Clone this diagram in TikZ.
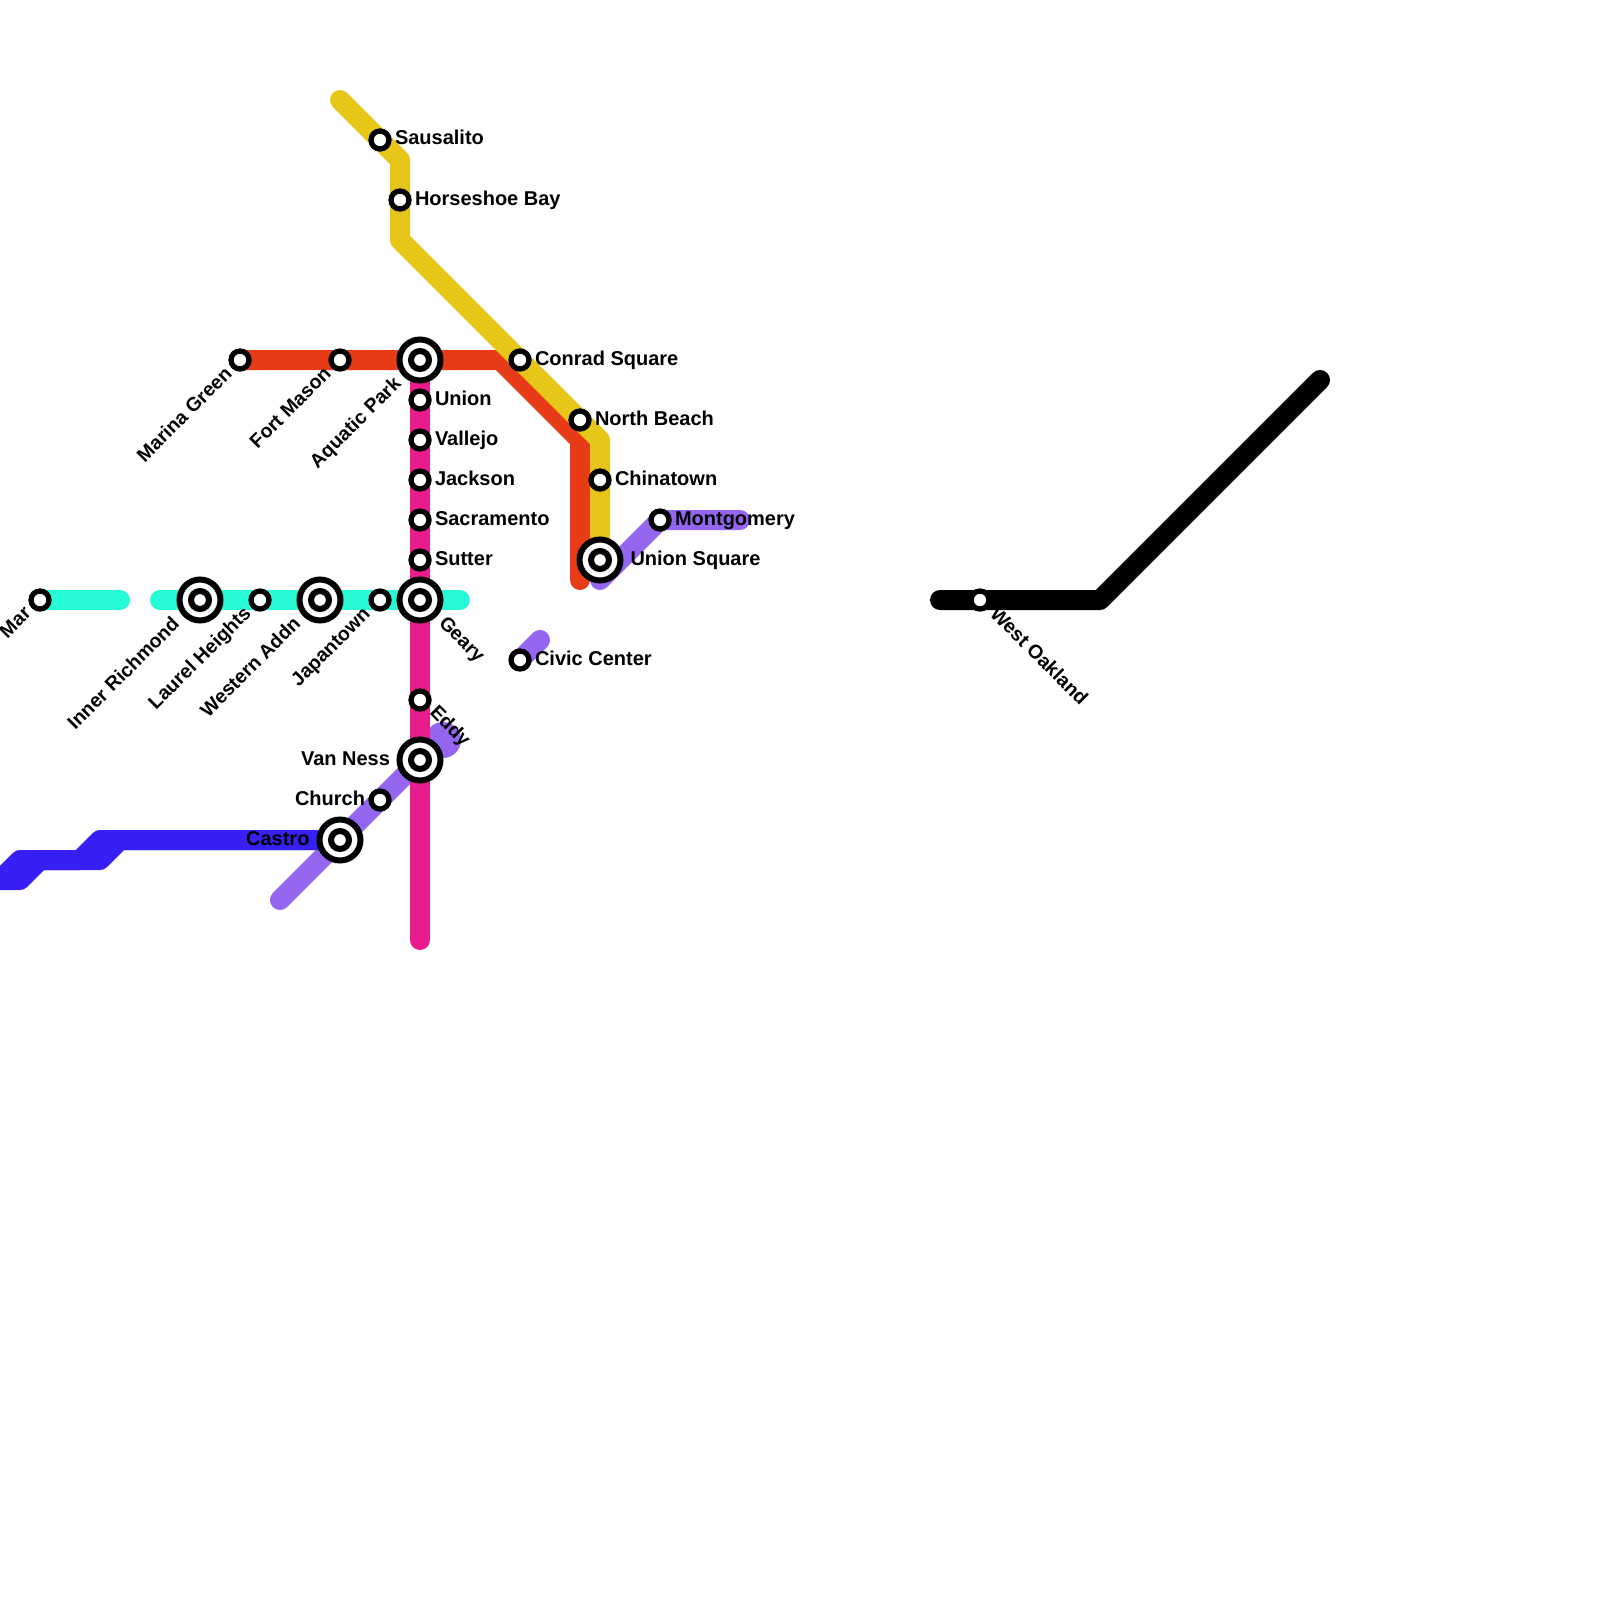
\documentclass[tikz,border=0pt]{standalone}
\usepackage{fontspec}
\setmainfont{Liberation Sans}
\usetikzlibrary{backgrounds}
\definecolor{cteal}{RGB}{38,250,215}
\definecolor{cred}{RGB}{232,60,24}
\definecolor{cyellow}{RGB}{230,198,24}
\definecolor{cpink}{RGB}{232,28,138}
\definecolor{cpurple}{RGB}{148,102,240}
\definecolor{cblue}{RGB}{54,32,246}
\tikzset{
  route/.style={line width=20pt,line cap=round,line join=round},
  stn/.style={circle,draw=black,fill=white,line width=5.3pt,minimum size=18pt,inner sep=0pt,outer sep=0pt},
  hub/.style={circle,draw=black,fill=white,line width=6pt,minimum size=41pt,inner sep=0pt,outer sep=0pt},
  hubin/.style={circle,draw=black,fill=white,line width=6pt,minimum size=18pt,inner sep=0pt,outer sep=0pt},
  lbl/.style={font=\fontsize{20}{24}\selectfont\bfseries,text=black,inner sep=0pt,outer sep=0pt},
  lblR/.style={lbl,anchor=base west},
  lblL/.style={lbl,anchor=base east},
  lblDL/.style={lbl,font=\fontsize{19.5}{24}\selectfont\bfseries,anchor=base east,rotate=45},
  lblDR/.style={lbl,font=\fontsize{19.5}{24}\selectfont\bfseries,anchor=base west,rotate=-45},
}
\newcommand{\hubnode}[2]{\node[hub] (#1) at (#2) {}; \node[hubin] (#1-in) at (#2) {};}
\begin{document}
\begin{tikzpicture}[x=1pt,y=-1pt]
\useasboundingbox (0,0) rectangle (1600,1600);
\clip (0,0) rectangle (1600,1600);
% stations
\node[stn] (mar) at (40,600) {};
\hubnode{richmond}{200,600}
\node[stn] (laurel) at (260,600) {};
\hubnode{western}{320,600}
\node[stn] (japan) at (380,600) {};
\hubnode{geary}{420,600}
\node[stn] (sausalito) at (380,140) {};
\node[stn] (horseshoe) at (400,200) {};
\node[stn] (marina) at (240,360) {};
\node[stn] (fortmason) at (340,360) {};
\hubnode{aquatic}{420,360}
\node[stn] (conrad) at (520,360) {};
\node[stn] (northbeach) at (580,420) {};
\node[stn] (chinatown) at (600,480) {};
\node[stn] (montgomery) at (660,520) {};
\hubnode{unionsq}{600,560}
\node[stn] (civic) at (520,660) {};
\node[stn] (union) at (420,400) {};
\node[stn] (vallejo) at (420,440) {};
\node[stn] (jackson) at (420,480) {};
\node[stn] (sacramento) at (420,520) {};
\node[stn] (sutter) at (420,560) {};
\node[stn] (eddy) at (420,700) {};
\hubnode{vanness}{420,760}
\node[stn] (church) at (380,800) {};
\hubnode{castro}{340,840}
\node[stn] (oakland) at (980,600) {};
% line ends and bends
\coordinate (yA) at (340,100); \coordinate (yB) at (400,160); \coordinate (yC) at (400,240); \coordinate (yD) at (600,440);
\coordinate (rA) at (500,360); \coordinate (rB) at (580,440); \coordinate (rC) at (580,580);
\coordinate (pE) at (420,940);
\coordinate (tA) at (120,600); \coordinate (tB) at (160,600); \coordinate (tC) at (460,600);
\coordinate (uA) at (280,900); \coordinate (uB) at (600,580); \coordinate (uC) at (740,520); \coordinate (uD) at (540,640);
\coordinate (uE) at (443,740);
\coordinate (bA) at (-20,880); \coordinate (bB) at (20,880); \coordinate (bC) at (40,860); \coordinate (bD) at (100,860); \coordinate (bE) at (120,840);
\coordinate (cA) at (-3,883); \coordinate (cB) at (20,860); \coordinate (cC) at (80,860); \coordinate (cD) at (100,840);
\coordinate (kA) at (940,600); \coordinate (kB) at (1100,600); \coordinate (kC) at (1320,380);
\begin{scope}[on background layer]
\clip (0,0) rectangle (1600,1600);
\fill[white] (0,0) rectangle (1600,1600);
\draw[route,cpurple] (uA) -- (castro.center) -- (church.center) -- (vanness.center) -- (uE);
\fill[cpurple] (uE) circle[radius=18pt];
\draw[route,cpurple] (uB) -- (montgomery.center) -- (uC);
\draw[route,cpurple] (civic.center) -- (uD);
\draw[route,cblue] (bA) -- (bB) -- (bC) -- (bD) -- (bE) -- (castro.center);
\draw[route,cblue,line cap=butt] (cA) -- (cB) -- (cC) -- (cD) -- (castro.center);
\draw[route,cpink] (aquatic.center) -- (pE);
\draw[route,cred] (marina.center) -- (rA) -- (rB) -- (rC);
\draw[route,cyellow] (yA) -- (yB) -- (yC) -- (yD) -- (unionsq.center);
\draw[route,cteal] (mar.center) -- (tA);
\draw[route,cteal] (tB) -- (tC);
\draw[route,black] (kA) -- (kB) -- (kC);
\end{scope}
% labels
\node[lblR] (lSausalito) at (395,145) {Sausalito};
\node[lblR] (lHorseshoe) at (415,205) {Horseshoe Bay};
\node[lblR] (lConrad) at (535,365) {Conrad Square};
\node[lblR] (lNorth) at (595,425) {North Beach};
\node[lblR] (lChina) at (615,485) {Chinatown};
\node[lblR] (lMont) at (675,525) {Montgomery};
\node[lblR] (lUnionSq) at (630.5,565) {Union Square};
\node[lblR] (lCivic) at (535,665) {Civic Center};
\node[lblR] (lUnion) at (435,405) {Union};
\node[lblR] (lVallejo) at (435,445) {Vallejo};
\node[lblR] (lJackson) at (435,485) {Jackson};
\node[lblR] (lSacramento) at (435,525) {Sacramento};
\node[lblR] (lSutter) at (435,565) {Sutter};
\node[lblL] (lVan) at (390,765) {Van Ness};
\node[lblL] (lChurch) at (365,805) {Church};
\node[lblL] (lCastro) at (309.5,845) {Castro};
\node[lblDL] (lMar) at (32,614.5) {Mar};
\node[lblDL] (lRich) at (180.4,625.4) {Inner Richmond};
\node[lblDL] (lLaurel) at (252,614.5) {Laurel Heights};
\node[lblDL] (lWest) at (301.5,625) {Western Addn};
\node[lblDL] (lJapan) at (371,615.5) {Japantown};
\node[lblDL] (lMarina) at (233,375) {Marina Green};
\node[lblDL] (lFort) at (332,375) {Fort Mason};
\node[lblDL] (lAquatic) at (402,385) {Aquatic Park};
\node[lblDR] (lGeary) at (438,624) {Geary};
\node[lblDR] (lEddy) at (429,713.5) {Eddy};
\node[lblDR] (lOak) at (989,615) {West Oakland};
\end{tikzpicture}
\end{document}
